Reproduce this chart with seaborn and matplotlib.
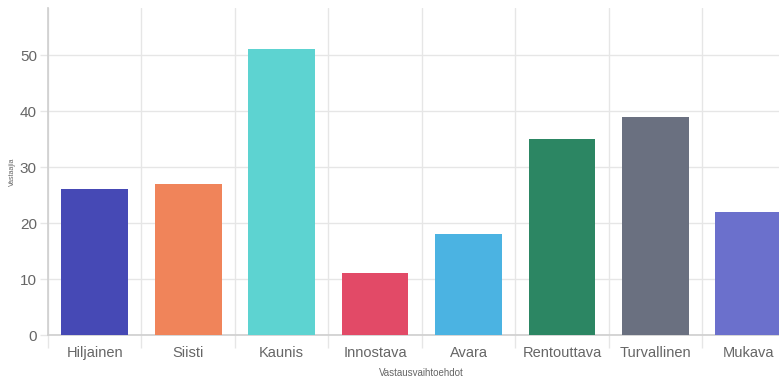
import numpy as np
import seaborn as sns
import matplotlib.pyplot as plt
import pandas as pd

categories = ['Hiljainen', 'Siisti', 'Kaunis', 'Innostava', 'Avara',
              'Rentouttava', 'Turvallinen', 'Mukava']
counts = [26, 27, 51, 11, 18, 35, 39, 22]
colors = ['#4649B5', '#F0845A', '#5DD3D1', '#E24A67', '#4BB3E2',
          '#2C8663', '#6A7080', '#6B70CC']

GRID = '#e6e6e6'
TEXT = '#666666'


def main():
    sns.set_theme(style='white')
    plt.rcParams['font.family'] = ['Liberation Sans', 'DejaVu Sans']

    df = pd.DataFrame({'Vastausvaihtoehdot': categories, 'Vastaajia': counts})

    fig = plt.figure(figsize=(7.79, 3.8), dpi=100)
    ax = fig.add_axes([0.0616, 0.1184, 0.9597, 0.8605])

    sns.barplot(data=df, x='Vastausvaihtoehdot', y='Vastaajia', hue='Vastausvaihtoehdot',
                palette=colors, legend=False, width=0.715, saturation=1,
                linewidth=0, ax=ax, zorder=3)

    ax.set_ylim(0, 58.4)
    ax.set_xlim(-0.5, len(categories) - 0.5)
    ax.set_yticks(range(0, 60, 10))
    ax.set_xticks(np.arange(len(categories)) - 0.5, minor=True)

    ax.grid(axis='y', which='major', color=GRID, linewidth=1, zorder=0)
    ax.grid(axis='x', which='minor', color=GRID, linewidth=1, zorder=0)
    ax.tick_params(axis='x', which='major', length=0, pad=8, labelsize=10.5, labelcolor=TEXT)
    ax.tick_params(axis='x', which='minor', length=9, color=GRID, width=1, bottom=True)
    ax.tick_params(axis='y', length=6, color=GRID, width=1, left=True, pad=2,
                   labelsize=11, labelcolor=TEXT)

    for s in ['top', 'right']:
        ax.spines[s].set_visible(False)
    ax.spines['left'].set_color('#d0d0d0')
    ax.spines['bottom'].set_color('#d0d0d0')

    ax.set_xlabel('Vastausvaihtoehdot', fontsize=7, color=TEXT)
    ax.xaxis.set_label_coords(0.5, -0.10)
    ax.set_ylabel('Vastaajia', fontsize=5, color=TEXT)
    ax.yaxis.set_label_coords(-0.043, 0.5)

    fig.savefig('out.png', dpi=100)


if __name__ == '__main__':
    main()
